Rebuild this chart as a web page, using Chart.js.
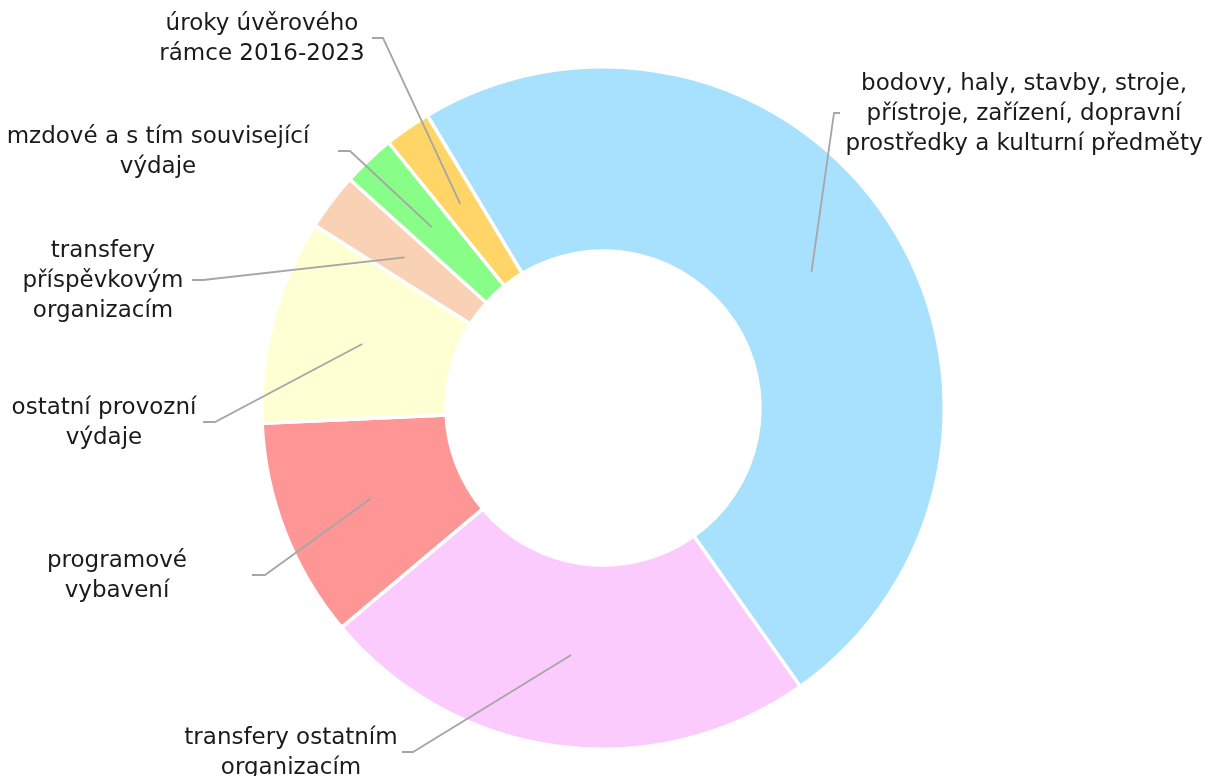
<!DOCTYPE html>
<html>
<head>
<meta charset="utf-8">
<script src="https://cdn.jsdelivr.net/npm/chart.js@4"></script>
<style>
  html, body { margin: 0; padding: 0; background: #fff; }
  #wrap { width: 1210px; height: 776px; position: relative; }
</style>
</head>
<body>
<div id="wrap"><canvas id="chart"></canvas></div>
<script>
'use strict';

// Rozpočet – struktura výdajů (podíly v %)
const labels = [
  ['bodovy, haly, stavby, stroje,', 'přístroje, zařízení, dopravní', 'prostředky a kulturní předměty'],
  ['transfery ostatním', 'organizacím'],
  ['programové', 'vybavení'],
  ['ostatní provozní', 'výdaje'],
  ['transfery', 'příspěvkovým', 'organizacím'],
  ['mzdové a s tím související', 'výdaje'],
  ['úroky úvěrového', 'rámce 2016-2023'],
];
const values = [48.8, 23.7, 10.4, 9.7, 2.7, 2.5, 2.2];
const colors = ['#A8E1FD', '#FCCBFE', '#FF9696', '#FFFFD4', '#F9D1B5', '#88FD88', '#FFD567'];

// callout boxes: text centre + first line; the leader ends at `end` after a short
// horizontal run starting at `elbow`
const callouts = [
  { x: 1024, y: 84, end: 840, elbow: 834 },
  { x: 291, y: 738, end: 402, elbow: 413 },
  { x: 117, y: 561, end: 252, elbow: 265 },
  { x: 104, y: 408, end: 203, elbow: 215 },
  { x: 103, y: 251, end: 192, elbow: 203 },
  { x: 158, y: 137, end: 338, elbow: 350 },
  { x: 262, y: 24, end: 372, elbow: 383 },
];

const FONT = '23px "DejaVu Sans"';
const LINE_H = 30;
const LEADER = '#A6A6A6';

const calloutPlugin = {
  id: 'callouts',
  afterDatasetsDraw(chart) {
    const ctx = chart.ctx;
    const arcs = chart.getDatasetMeta(0).data;
    ctx.save();
    ctx.font = FONT;
    ctx.textAlign = 'center';
    ctx.textBaseline = 'middle';
    arcs.forEach((arc, i) => {
      const c = callouts[i];
      const lines = labels[i];
      const midY = c.y + (lines.length - 1) * LINE_H / 2 - 1;
      const anchor = arc.tooltipPosition();

      ctx.strokeStyle = LEADER;
      ctx.lineWidth = 1.8;
      ctx.beginPath();
      ctx.moveTo(anchor.x, anchor.y);
      ctx.lineTo(c.elbow, midY);
      ctx.lineTo(c.end, midY);
      ctx.stroke();

      ctx.fillStyle = '#1a1a1a';
      lines.forEach((l, k) => ctx.fillText(l, c.x, c.y + k * LINE_H));
    });
    ctx.restore();
  },
};

new Chart(document.getElementById('chart'), {
  type: 'doughnut',
  data: {
    labels: labels.map((l) => l.join(' ')),
    datasets: [{
      data: values,
      backgroundColor: colors,
      borderColor: '#ffffff',
      borderWidth: 3.5,
    }],
  },
  options: {
    responsive: true,
    maintainAspectRatio: false,
    animation: false,
    cutout: '46%',
    rotation: -31,
    layout: { padding: { left: 260, right: 264, top: 65, bottom: 25 } },
    plugins: { legend: { display: false }, tooltip: { enabled: false } },
  },
  plugins: [calloutPlugin],
});
</script>
</body>
</html>
